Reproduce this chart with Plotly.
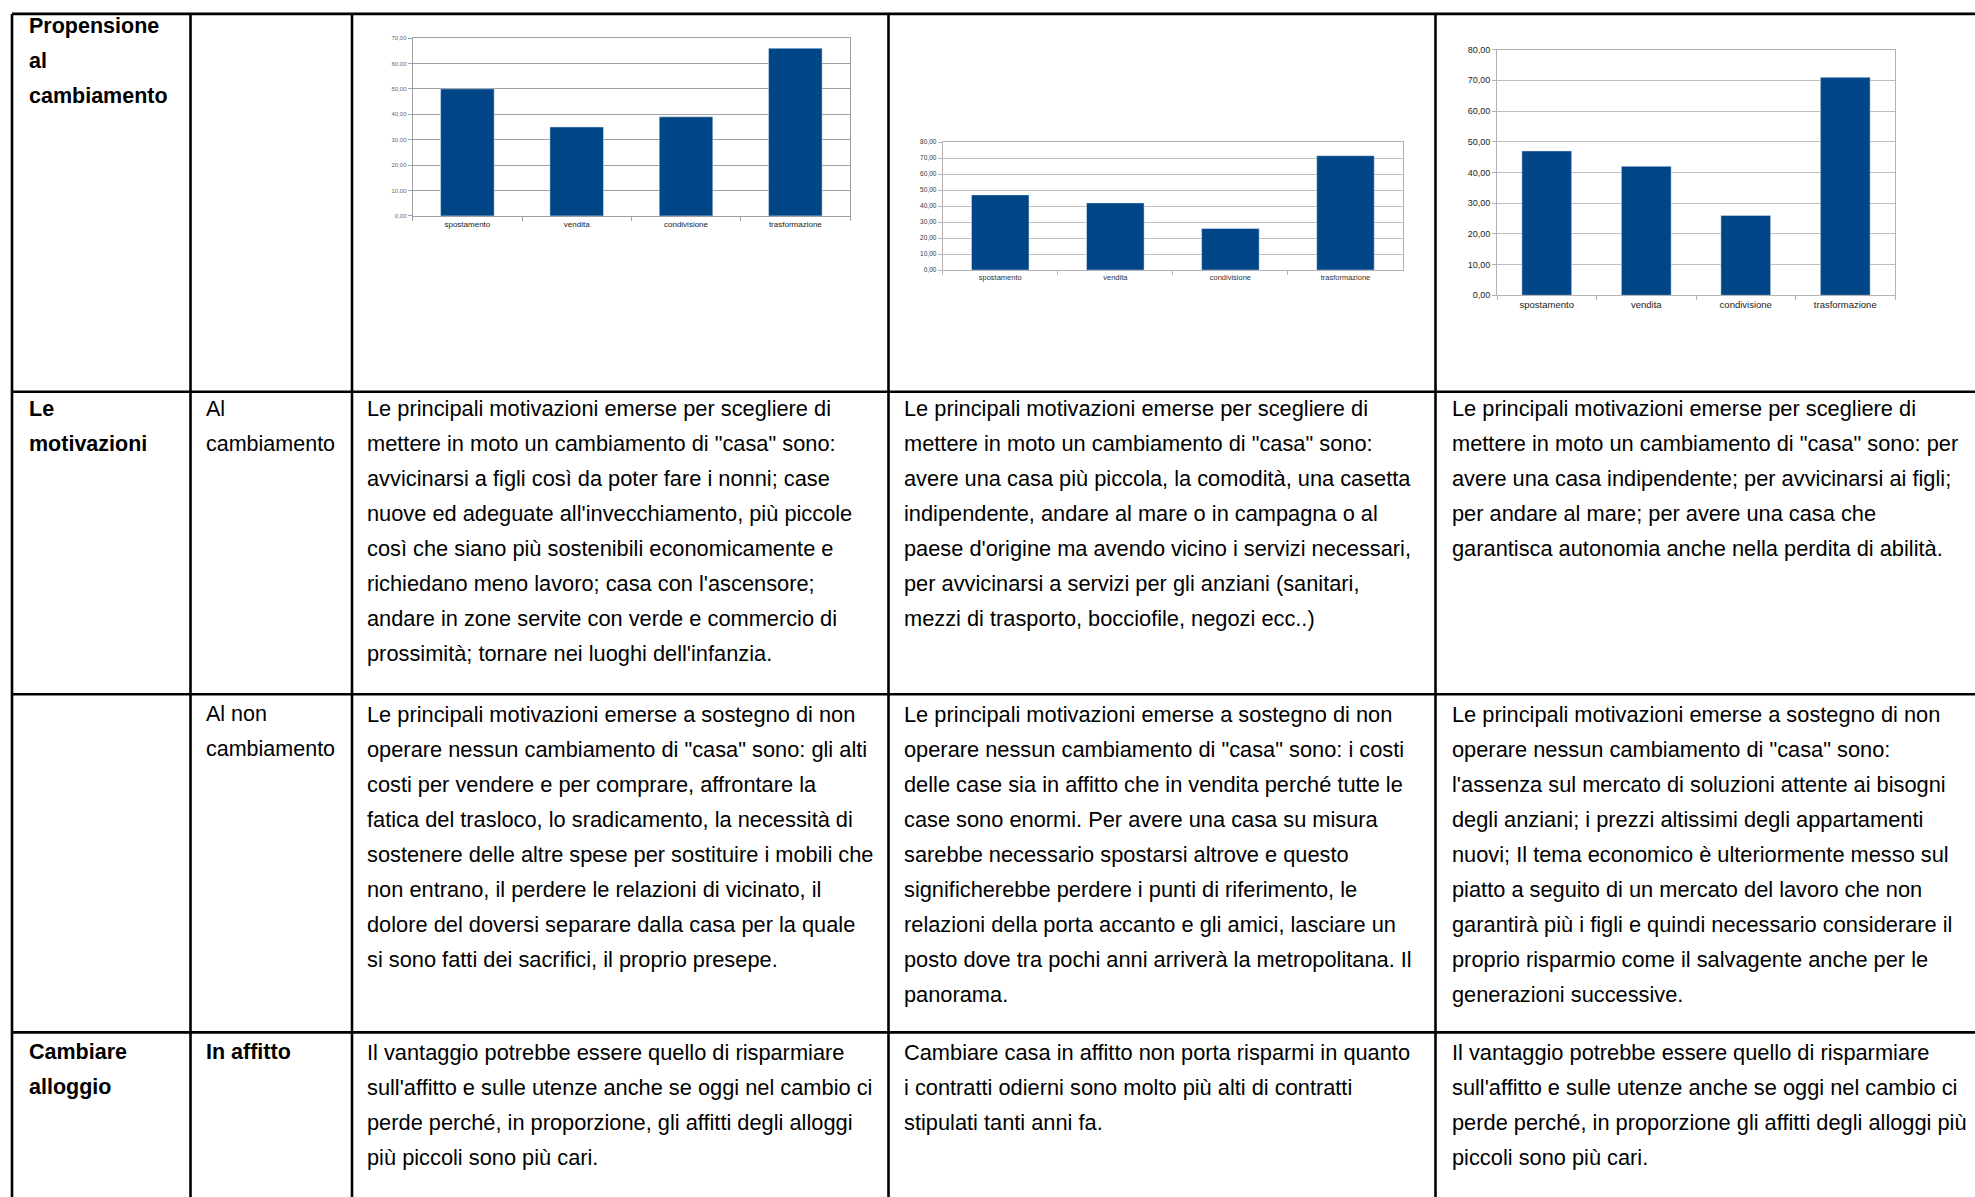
import plotly.graph_objects as go

W, H = 1975, 1197

# ---------------- data ----------------
categories = ["spostamento", "vendita", "condivisione", "trasformazione"]
values_chart1 = [50.0, 35.0, 39.0, 66.0]
values_chart2 = [47.0, 42.0, 26.0, 71.5]
values_chart3 = [47.0, 42.0, 26.0, 71.0]

ticks_70 = [0, 10, 20, 30, 40, 50, 60, 70]
ticklabels_70 = ["0,00", "10,00", "20,00", "30,00", "40,00", "50,00", "60,00", "70,00"]
ticks_80 = [0, 10, 20, 30, 40, 50, 60, 70, 80]
ticklabels_80 = ["0,00", "10,00", "20,00", "30,00", "40,00", "50,00", "60,00", "70,00", "80,00"]

row1_head = ["Propensione", "al", "cambiamento"]
row2_head = ["Le", "motivazioni"]
row2_sub = ["Al", "cambiamento"]
row3_sub = ["Al non", "cambiamento"]
row4_head = ["Cambiare", "alloggio"]
row4_sub = ["In affitto"]

row2_col3 = [
    "Le principali motivazioni emerse per scegliere di",
    "mettere in moto un cambiamento di \"casa\" sono:",
    "avvicinarsi a figli così da poter fare i nonni; case",
    "nuove ed adeguate all'invecchiamento, più piccole",
    "così che siano più sostenibili economicamente e",
    "richiedano meno lavoro; casa con l'ascensore;",
    "andare in zone servite con verde e commercio di",
    "prossimità; tornare nei luoghi dell'infanzia.",
]
row2_col4 = [
    "Le principali motivazioni emerse per scegliere di",
    "mettere in moto un cambiamento di \"casa\" sono:",
    "avere una casa più piccola, la comodità, una casetta",
    "indipendente, andare al mare o in campagna o al",
    "paese d'origine ma avendo vicino i servizi necessari,",
    "per avvicinarsi a servizi per gli anziani (sanitari,",
    "mezzi di trasporto, bocciofile, negozi ecc..)",
]
row2_col5 = [
    "Le principali motivazioni emerse per scegliere di",
    "mettere in moto un cambiamento di \"casa\" sono: per",
    "avere una casa indipendente; per avvicinarsi ai figli;",
    "per andare al mare; per avere una casa che",
    "garantisca autonomia anche nella perdita di abilità.",
]
row3_col3 = [
    "Le principali motivazioni emerse a sostegno di non",
    "operare nessun cambiamento di \"casa\" sono: gli alti",
    "costi per vendere e per comprare, affrontare la",
    "fatica del trasloco, lo sradicamento, la necessità di",
    "sostenere delle altre spese per sostituire i mobili che",
    "non entrano, il perdere le relazioni di vicinato, il",
    "dolore del doversi separare dalla casa per la quale",
    "si sono fatti dei sacrifici, il proprio presepe.",
]
row3_col4 = [
    "Le principali motivazioni emerse a sostegno di non",
    "operare nessun cambiamento di \"casa\" sono: i costi",
    "delle case sia in affitto che in vendita perché tutte le",
    "case sono enormi. Per avere una casa su misura",
    "sarebbe necessario spostarsi altrove e questo",
    "significherebbe perdere i punti di riferimento, le",
    "relazioni della porta accanto e gli amici, lasciare un",
    "posto dove tra pochi anni arriverà la metropolitana. Il",
    "panorama.",
]
row3_col5 = [
    "Le principali motivazioni emerse a sostegno di non",
    "operare nessun cambiamento di \"casa\" sono:",
    "l'assenza sul mercato di soluzioni attente ai bisogni",
    "degli anziani; i prezzi altissimi degli appartamenti",
    "nuovi; Il tema economico è ulteriormente messo sul",
    "piatto a seguito di un mercato del lavoro che non",
    "garantirà più i figli e quindi necessario considerare il",
    "proprio risparmio come il salvagente anche per le",
    "generazioni successive.",
]
row4_col3 = [
    "Il vantaggio potrebbe essere quello di risparmiare",
    "sull'affitto e sulle utenze anche se oggi nel cambio ci",
    "perde perché, in proporzione, gli affitti degli alloggi",
    "più piccoli sono più cari.",
]
row4_col4 = [
    "Cambiare casa in affitto non porta risparmi in quanto",
    "i contratti odierni sono molto più alti di contratti",
    "stipulati tanti anni fa.",
]
row4_col5 = [
    "Il vantaggio potrebbe essere quello di risparmiare",
    "sull'affitto e sulle utenze anche se oggi nel cambio ci",
    "perde perché, in proporzione gli affitti degli alloggi più",
    "piccoli sono più cari.",
]

# ---------------- helpers ----------------
def px(x):
    return x / W


def py(y):
    return 1 - y / H


BAR_COLOR = "#004586"
FONT = "Liberation Sans, Arial, sans-serif"
LINE_H = 35.3

fig = go.Figure()

fig.add_trace(go.Bar(x=categories, y=values_chart1, marker_color=BAR_COLOR, width=0.49,
                     xaxis="x", yaxis="y", showlegend=False))
fig.add_trace(go.Bar(x=categories, y=values_chart2, marker_color=BAR_COLOR, width=0.5,
                     xaxis="x2", yaxis="y2", showlegend=False))
fig.add_trace(go.Bar(x=categories, y=values_chart3, marker_color=BAR_COLOR, width=0.5,
                     xaxis="x3", yaxis="y3", showlegend=False))


def xax(x0, x1, anchor, size, color, linecolor):
    return dict(domain=[px(x0), px(x1)], anchor=anchor, type="category",
                showline=True, linecolor=linecolor, linewidth=1, mirror=True,
                ticks="outside", tickson="boundaries", ticklen=4, tickcolor=linecolor,
                showgrid=False, tickfont=dict(family=FONT, size=size, color=color),
                fixedrange=True)


def yax(y0, y1, anchor, rng, tv, tt, size, color, gridcolor, linecolor):
    return dict(domain=[py(y1), py(y0)], anchor=anchor, range=rng,
                tickvals=tv, ticktext=tt, showline=True, linecolor=linecolor,
                linewidth=1, mirror=True, ticks="outside", ticklen=4, tickcolor=linecolor,
                showgrid=True, gridcolor=gridcolor, gridwidth=1, zeroline=False,
                tickfont=dict(family=FONT, size=size, color=color), fixedrange=True)


layout = dict(
    width=W, height=H,
    margin=dict(l=0, r=0, t=0, b=0),
    paper_bgcolor="white", plot_bgcolor="white",
    showlegend=False,
    xaxis=xax(412.7, 850, "y", 8, "#222222", "#a0a0a0"),
    yaxis=yax(33.3, 212.7, "x", [0, 70], ticks_70, ticklabels_70, 6, "#666666", "#a0a0a0", "#a0a0a0"),
    xaxis2=xax(942.7, 1403, "y2", 7.5, "#333333", "#b3b3b3"),
    yaxis2=yax(138.3, 267.3, "x2", [0, 80], ticks_80, ticklabels_80, 6.5, "#333333", "#c0c0c0", "#b3b3b3"),
    xaxis3=xax(1497, 1895, "y3", 9.5, "#222222", "#b3b3b3"),
    yaxis3=yax(45, 292.7, "x3", [0, 80], ticks_80, ticklabels_80, 9, "#222222", "#c0c0c0", "#b3b3b3"),
)
fig.update_layout(**layout)

# ---------------- table lines ----------------
LW = 2.6
v_lines = [12, 190.5, 352, 888.5, 1435.5]
h_lines = [9, 390, 695, 1036]
shapes = []
for x in v_lines:
    shapes.append(dict(type="line", xref="paper", yref="paper", x0=px(x), x1=px(x),
                       y0=py(h_lines[0]), y1=py(H + 5), line=dict(color="black", width=LW)))
for y in h_lines:
    shapes.append(dict(type="line", xref="paper", yref="paper", x0=px(v_lines[0]), x1=px(W + 5),
                       y0=py(y), y1=py(y), line=dict(color="black", width=LW)))
fig.update_layout(shapes=shapes)

# ---------------- texts ----------------
annotations = []


def add_lines(lines, x, y_first, bold=False, size=21.8):
    for i, t in enumerate(lines):
        txt = "<b>%s</b>" % t if bold else t
        annotations.append(dict(text=txt, x=px(x), y=py(y_first + i * LINE_H),
                                xref="paper", yref="paper", xanchor="left", yanchor="middle",
                                showarrow=False,
                                font=dict(family=FONT, size=size, color="black")))


col_x = [26.5, 204, 365, 902, 1450]
row_y = [21, 407, 715, 1056]

add_lines(row1_head, col_x[0], row_y[0], bold=True, size=21.5)
add_lines(row2_head, col_x[0], row_y[1], bold=True, size=21.5)
add_lines(row2_sub, col_x[1], row_y[1], size=21.5)
add_lines(row3_sub, col_x[1], row_y[2], size=21.5)
add_lines(row4_head, col_x[0], row_y[3], bold=True, size=21.5)
add_lines(row4_sub, col_x[1], row_y[3], bold=True, size=21.5)

add_lines(row2_col3, col_x[2], row_y[1])
add_lines(row2_col4, col_x[3], row_y[1])
add_lines(row2_col5, col_x[4], row_y[1])
add_lines(row3_col3, col_x[2], row_y[2])
add_lines(row3_col4, col_x[3], row_y[2])
add_lines(row3_col5, col_x[4], row_y[2])
add_lines(row4_col3, col_x[2], row_y[3])
add_lines(row4_col4, col_x[3], row_y[3])
add_lines(row4_col5, col_x[4], row_y[3])

fig.update_layout(annotations=annotations)

fig.write_html("out.html", include_plotlyjs=True, config={"displayModeBar": False})
